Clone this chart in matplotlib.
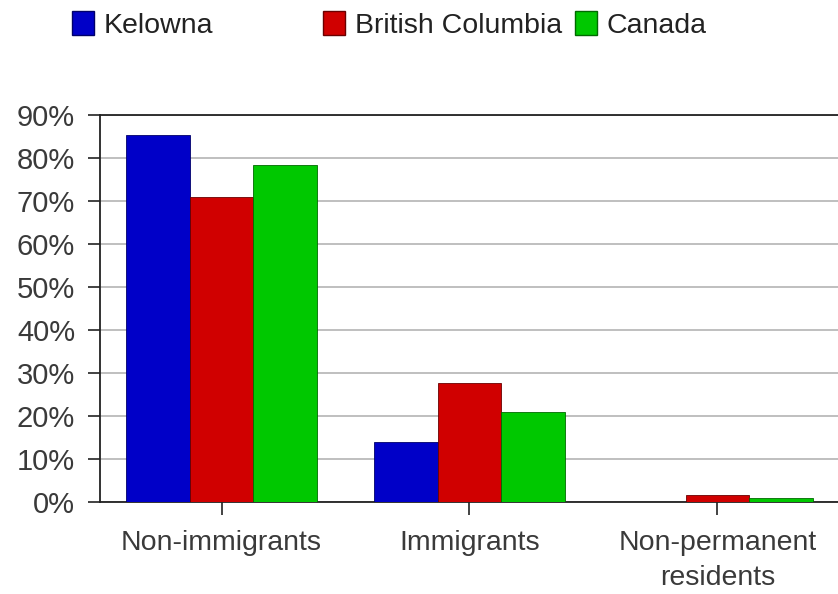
import matplotlib
matplotlib.use("Agg")
import matplotlib.pyplot as plt
import numpy as np

# data (percent of population)
categories = ["Non-immigrants", "Immigrants", "Non-permanent\nresidents"]
kelowna = [85.3, 14.0, 0.0]
british_columbia = [71.0, 27.7, 1.6]
canada = [78.4, 20.9, 0.9]
y_ticks = [0, 10, 20, 30, 40, 50, 60, 70, 80, 90]

series = [
    ("Kelowna", kelowna, "#0000c8", "#00006a"),
    ("British Columbia", british_columbia, "#d00000", "#6a0000"),
    ("Canada", canada, "#00c800", "#006a00"),
]

plt.rcParams["font.family"] = ["Liberation Sans", "DejaVu Sans"]

fig = plt.figure(figsize=(8.38, 5.94), dpi=100)
ax = fig.add_axes([100 / 838, 1 - 502 / 594, 1 - 100 / 838 + 0.01, 387 / 594])

x = np.arange(len(categories))
width = 0.257
bars = []
for i, (name, vals, color, edge) in enumerate(series):
    b = ax.bar(x + (i - 1) * width, vals, width, color=color,
               edgecolor=edge, linewidth=0.6, zorder=3, label=name)
    bars.append(b)

ax.set_ylim(0, 90)
ax.set_xlim(-0.49, 2.52)
ax.set_yticks(y_ticks)
ax.set_yticklabels([f"{t}%" for t in y_ticks])
ax.set_xticks(x)
ax.set_xticklabels(categories, linespacing=1.45)

ax.yaxis.grid(True, color="#b4b4b4", linewidth=1.2, zorder=0)
ax.set_axisbelow(True)

for side in ["left", "bottom", "top"]:
    ax.spines[side].set_color("#222222")
    ax.spines[side].set_linewidth(1.3)
ax.spines["right"].set_visible(False)

ax.tick_params(axis="y", length=9, width=1.2, pad=9, labelsize=21,
               labelcolor="#3a3a3a", color="#222222")
ax.tick_params(axis="x", length=9, width=1.2, pad=11, labelsize=20.5,
               labelcolor="#3a3a3a", color="#222222")

# legend entries sit in fixed slots like the original
legend_x = [72, 323, 575]
for b, lx in zip(bars, legend_x):
    leg = fig.legend(handles=[b], loc="upper left",
                     bbox_to_anchor=(lx / 838, 1 - 11 / 594),
                     frameon=False, fontsize=20.5, borderpad=0,
                     borderaxespad=0, handlelength=0.77, handleheight=0.91,
                     handletextpad=0.35)
    for t in leg.get_texts():
        t.set_color("#222222")
    for h in leg.legend_handles:
        h.set_linewidth(1.0)

fig.savefig("out.png", dpi=100)
